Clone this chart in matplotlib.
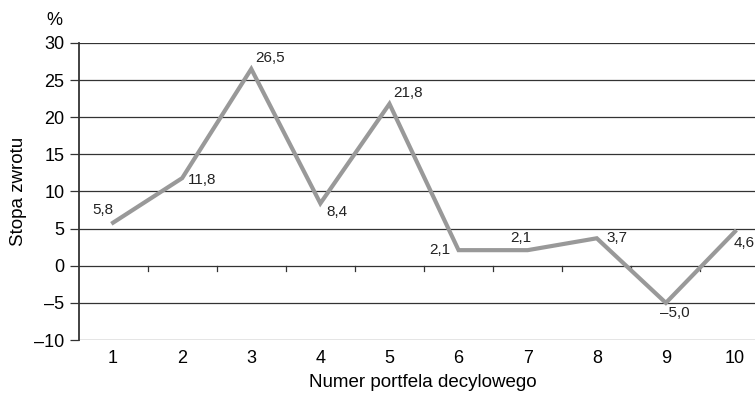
import numpy as np
import matplotlib.pyplot as plt

plt.rcParams['font.family'] = ['Liberation Sans', 'DejaVu Sans']

# data
portfolios = [1, 2, 3, 4, 5, 6, 7, 8, 9, 10]
returns = [5.8, 11.8, 26.5, 8.4, 21.8, 2.1, 2.1, 3.7, -5.0, 4.6]
labels = ["5,8", "11,8", "26,5", "8,4", "21,8", "2,1", "2,1", "3,7", "\u20135,0", "4,6"]
y_ticks = [-10, -5, 0, 5, 10, 15, 20, 25, 30]
y_ticklabels = ["\u201310", "\u20135", "0", "5", "10", "15", "20", "25", "30"]

# label offsets in points (dx, dy, ha, va)
offsets = [(0, 4, 'right', 'bottom'), (4, -1, 'left', 'center'), (3, 3, 'left', 'bottom'),
           (4, -1, 'left', 'top'), (3, 3, 'left', 'bottom'), (-6, 0, 'right', 'center'),
           (-5, 4, 'center', 'bottom'), (7, 0, 'left', 'center'), (-4, -2, 'left', 'top'),
           (-1, -3, 'left', 'top')]

fig = plt.figure(figsize=(7.55, 3.94), dpi=100)
ax = fig.add_axes([0.104, 0.137, 0.896, 0.754])

for y in y_ticks:
    ax.axhline(y, color='#333333', lw=0.9, zorder=1)

ax.plot(portfolios, returns, color='#999999', lw=3, zorder=3, solid_joinstyle='miter')

for x, y, t, (dx, dy, ha, va) in zip(portfolios, returns, labels, offsets):
    ax.annotate(t, (x, y), xytext=(dx, dy), textcoords='offset points',
                ha=ha, va=va, fontsize=11, color='#222222')

# small ticks on the zero line between categories
for b in np.arange(1.5, 10, 1):
    ax.plot([b, b], [0, -0.7], color='#333333', lw=0.9, zorder=2)

ax.set_xlim(0.5, 10.29)
ax.set_ylim(-10, 30)
ax.set_yticks(y_ticks)
ax.set_yticklabels(y_ticklabels, fontsize=13)
ax.set_xticks(portfolios)
ax.set_xticklabels([str(p) for p in portfolios], fontsize=13)
ax.tick_params(axis='x', length=0, pad=7)
ax.tick_params(axis='y', length=6.5, width=0.9, color='#333333', pad=3.6)

for s in ['top', 'right', 'bottom']:
    ax.spines[s].set_visible(False)
ax.spines['left'].set_color('#333333')
ax.spines['left'].set_linewidth(1.3)

ax.set_xlabel('Numer portfela decylowego', fontsize=13.5)
ax.xaxis.label.set_va('baseline')
ax.xaxis.set_label_coords(0.509, -0.158)
ax.set_ylabel('Stopa zwrotu', fontsize=13.5)
ax.yaxis.set_label_coords(-0.076, 0.5)
fig.text(0.0715, 0.947, '%', fontsize=13, ha='center', va='center')

fig.savefig('out.png', dpi=100)
